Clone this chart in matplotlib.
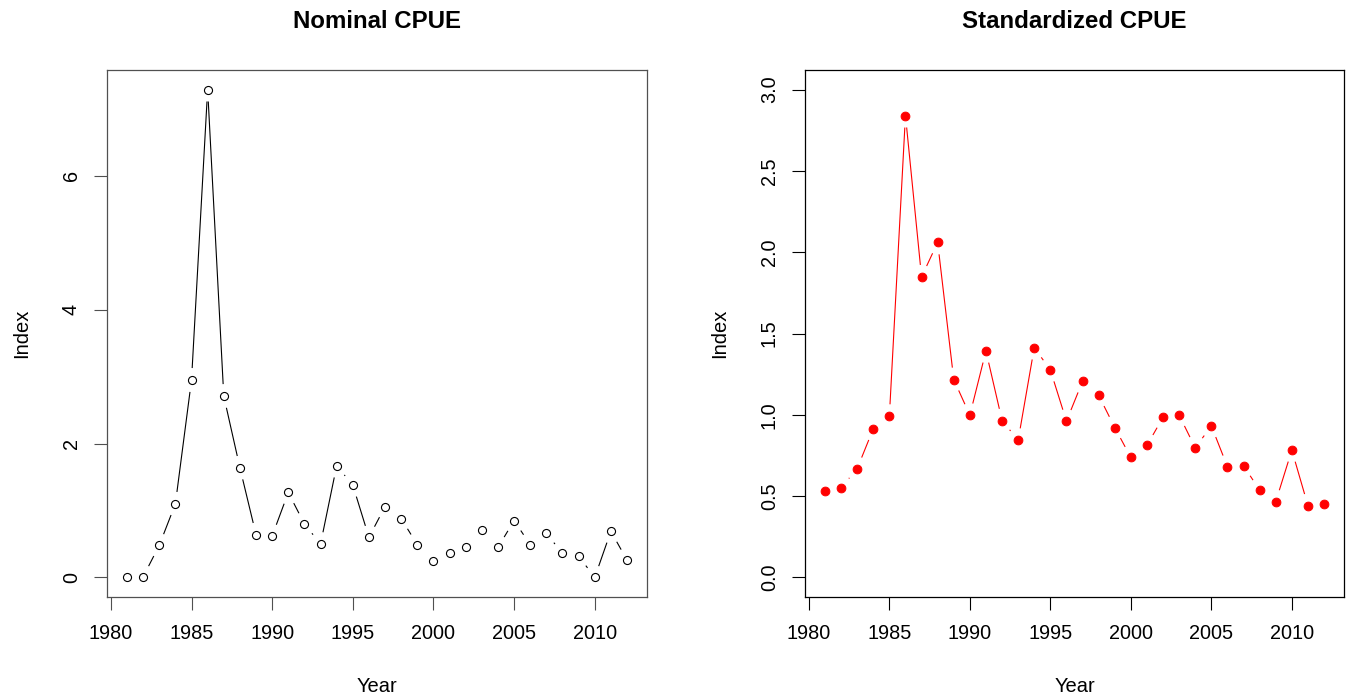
import numpy as np
import matplotlib
matplotlib.use("Agg")
import matplotlib.pyplot as plt

plt.rcParams['font.family'] = ['Liberation Sans', 'DejaVu Sans']

# dados
years = list(range(1981, 2013))
nominal = [0.01, 0.01, 0.48, 1.10, 2.95, 7.29, 2.71, 1.64, 0.64, 0.62,
           1.27, 0.80, 0.50, 1.67, 1.38, 0.60, 1.06, 0.88, 0.49, 0.25,
           0.36, 0.45, 0.71, 0.45, 0.85, 0.49, 0.66, 0.36, 0.32, 0.00,
           0.69, 0.26]
standardized = [0.531, 0.552, 0.669, 0.914, 0.991, 2.84, 1.848, 2.06, 1.217,
                0.998, 1.393, 0.965, 0.844, 1.413, 1.276, 0.961, 1.206, 1.12,
                0.922, 0.738, 0.812, 0.985, 0.998, 0.797, 0.932, 0.681, 0.687,
                0.537, 0.466, 0.783, 0.442, 0.454]
x_ticks = [1980, 1985, 1990, 1995, 2000, 2005, 2010]
nom_ticks = [0, 2, 4, 6]
std_ticks = [0.0, 0.5, 1.0, 1.5, 2.0, 2.5, 3.0]

DPI = 100
fig = plt.figure(figsize=(13.49, 6.99), dpi=DPI)


def r_lim(lo, hi):
    # extensao de 4% como no R
    pad = 0.04 * (hi - lo)
    return lo - pad, hi + pad


def linhas_tipo_b(ax, x, y, color, lw, gap=12):
    # segmentos com espaco em volta dos pontos (type = "b")
    pts = ax.transData.transform(np.column_stack([x, y]))
    inv = ax.transData.inverted()
    for p0, p1 in zip(pts[:-1], pts[1:]):
        d = p1 - p0
        L = np.hypot(d[0], d[1])
        if L <= 2 * gap:
            continue
        u = d / L
        a = inv.transform(p0 + u * gap)
        b = inv.transform(p1 - u * gap)
        ax.plot([a[0], b[0]], [a[1], b[1]], color=color, lw=lw,
                solid_capstyle='butt')


def estilo(ax, title, edge):
    for s in ax.spines.values():
        s.set_color(edge)
        s.set_linewidth(0.9)
    ax.tick_params(direction='out', length=9.4, width=0.8, color=edge,
                   labelsize=14.3, pad=10)
    ax.tick_params(axis='y', labelrotation=90, pad=9.5)
    for lab in ax.get_yticklabels():
        lab.set_va('center')
    ax.set_title(title, fontsize=17.3, fontweight='bold', pad=30)
    ax.set_xlabel('Year', fontsize=14.5)
    ax.set_ylabel('Index', fontsize=14.5)
    ax.xaxis.set_label_coords(0.5, -0.152)
    ax.yaxis.set_label_coords(-0.141, 0.5)


# Painel 1: CPUE nominal
ax1 = fig.add_axes([107 / 1349, 1 - 597 / 699, 540 / 1349, 527 / 699])
ax1.set_xlim(*r_lim(min(years), max(years)))
ax1.set_ylim(*r_lim(min(nominal), max(nominal)))
ax1.set_xticks(x_ticks)
ax1.set_yticks(nom_ticks)
linhas_tipo_b(ax1, years, nominal, 'black', 0.8)
ax1.plot(years, nominal, ls='none', marker='o', ms=5.8, mfc='none',
         mec='black', mew=0.8)
estilo(ax1, 'Nominal CPUE', '#505050')

# Painel 2: CPUE padronizada
ax2 = fig.add_axes([805 / 1349, 1 - 597 / 699, 539 / 1349, 527 / 699])
ax2.set_xlim(*r_lim(min(years), max(years)))
ax2.set_ylim(*r_lim(0, 3))
ax2.set_xticks(x_ticks)
ax2.set_yticks(std_ticks)
ax2.set_yticklabels([f'{v:.1f}' for v in std_ticks])
linhas_tipo_b(ax2, years, standardized, 'red', 0.8)
ax2.plot(years, standardized, ls='none', marker='o', ms=6.3, mfc='red',
         mec='red', mew=0.7)
estilo(ax2, 'Standardized CPUE', 'black')

fig.savefig('out.png', dpi=DPI)
